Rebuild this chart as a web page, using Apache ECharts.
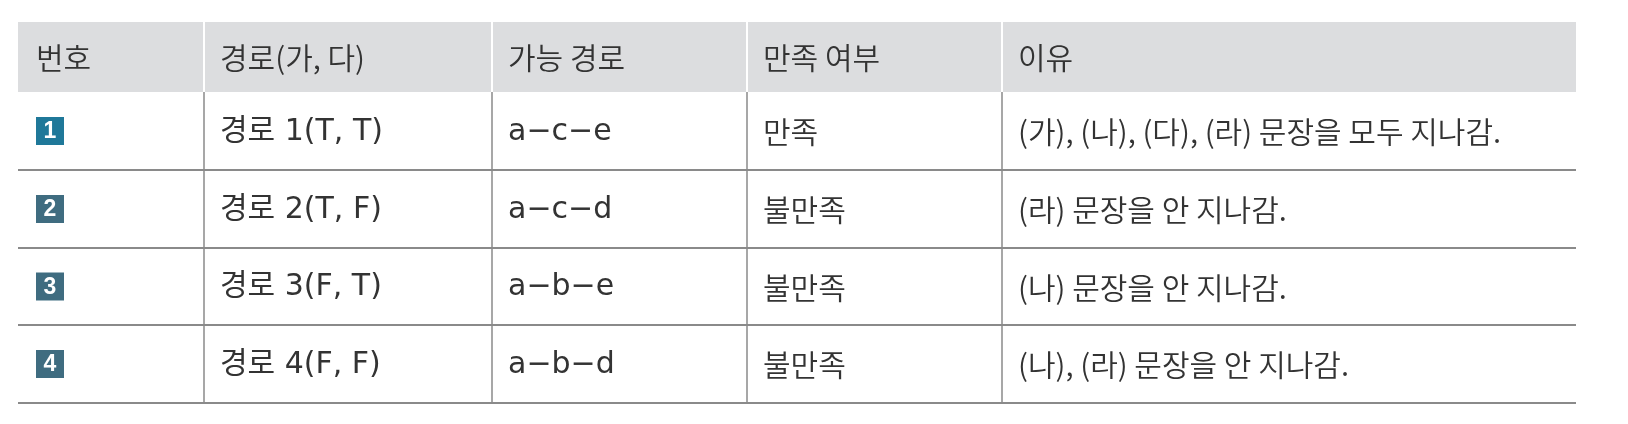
<!DOCTYPE html>
<html>
<head>
<meta charset="utf-8">
<script src="https://cdn.jsdelivr.net/npm/echarts@6/dist/echarts.min.js"></script>
<style>
  html, body { margin: 0; padding: 0; background: #fff; }
  #tableChart { width: 1628px; height: 424px; }
</style>
</head>
<body>
<div id="tableChart"></div>
<script>
// table content
var headers = ['번호', '경로(가, 다)', '가능 경로', '만족 여부', '이유'];
var rowNums = ['1', '2', '3', '4'];
var paths = ['경로 1(T, T)', '경로 2(T, F)', '경로 3(F, T)', '경로 4(F, F)'];
var routes = ['a−c−e', 'a−c−d', 'a−b−e', 'a−b−d'];
var satisfied = ['만족', '불만족', '불만족', '불만족'];
var reasons = [
    '(가), (나), (다), (라) 문장을 모두 지나감.',
    '(라) 문장을 안 지나감.',
    '(나) 문장을 안 지나감.',
    '(나), (라) 문장을 안 지나감.'
];

// layout (axis units = px)
var colEdges = [0, 186, 474, 729, 984, 1558];
var rowEdges = [0, 70, 148, 226, 303, 381];

function cellText(c, r) {
    if (r === 0) return headers[c];
    var i = r - 1;
    return [rowNums[i], paths[i], routes[i], satisfied[i], reasons[i]][c];
}

var cells = [];
for (var r = 0; r < rowEdges.length - 1; r++) {
    for (var c = 0; c < colEdges.length - 1; c++) {
        cells.push([c, r]);
    }
}

var FONT = '"Noto Sans CJK KR", "Noto Sans", sans-serif';
// wider latin glyphs for the path / route columns
var WIDE_FONT = '"DejaVu Sans", "Noto Sans CJK KR", sans-serif';

function renderCell(params, api) {
    var c = api.value(0), r = api.value(1);
    var p0 = api.coord([colEdges[c], rowEdges[r]]);
    var p1 = api.coord([colEdges[c + 1], rowEdges[r + 1]]);
    var x0 = p0[0], y0 = p0[1], x1 = p1[0], y1 = p1[1];
    var midY = (y0 + y1) / 2;
    var children = [];
    var txt = cellText(c, r);

    if (r === 0) {
        children.push({ type: 'rect', shape: { x: x0, y: y0, width: x1 - x0, height: y1 - y0 },
            style: { fill: '#dcdddf' } });
        if (c > 0) {
            children.push({ type: 'line', shape: { x1: x0, y1: y0, x2: x0, y2: y1 },
                style: { stroke: '#ffffff', lineWidth: 2 } });
        }
    } else {
        children.push({ type: 'line', shape: { x1: x0, y1: y1, x2: x1, y2: y1 },
            style: { stroke: '#8a8a8a', lineWidth: 2 } });
        if (c > 0) {
            children.push({ type: 'line', shape: { x1: x0, y1: y0, x2: x0, y2: y1 },
                style: { stroke: '#8a8a8a', lineWidth: 1.5 } });
        }
    }

    if (r > 0 && c === 0) {
        // number badge
        var size = 28;
        children.push({ type: 'rect', shape: { x: x0 + 18, y: midY - size / 2, width: size, height: size },
            style: { fill: r === 1 ? '#1f7899' : '#3f6c80' } });
        children.push({ type: 'text', style: { text: txt, x: x0 + 18 + size / 2, y: midY + 1,
            fill: '#ffffff', fontSize: 23, fontWeight: 'bold', fontFamily: '"Liberation Sans", Arial, sans-serif',
            align: 'center', verticalAlign: 'middle' } });
    } else {
        var wide = r > 0 && (c === 1 || c === 2);
        children.push({ type: 'text', style: { text: txt, x: x0 + (c === 0 ? 18 : 16), y: midY + 1,
            fill: '#333333', fontSize: 30, fontWeight: wide ? 'normal' : 350,
            fontFamily: wide ? WIDE_FONT : FONT,
            align: 'left', verticalAlign: 'middle' } });
    }
    return { type: 'group', children: children };
}

var myChart = echarts.init(document.getElementById('tableChart'));
var option = {
    animation: false,
    grid: { left: 18, right: 52, top: 22, bottom: 21 },
    xAxis: { type: 'value', min: 0, max: colEdges[colEdges.length - 1], show: false },
    yAxis: { type: 'value', min: 0, max: rowEdges[rowEdges.length - 1], inverse: true, show: false },
    series: [{
        type: 'custom',
        renderItem: renderCell,
        data: cells,
        clip: false
    }]
};
myChart.setOption(option);
</script>
</body>
</html>
